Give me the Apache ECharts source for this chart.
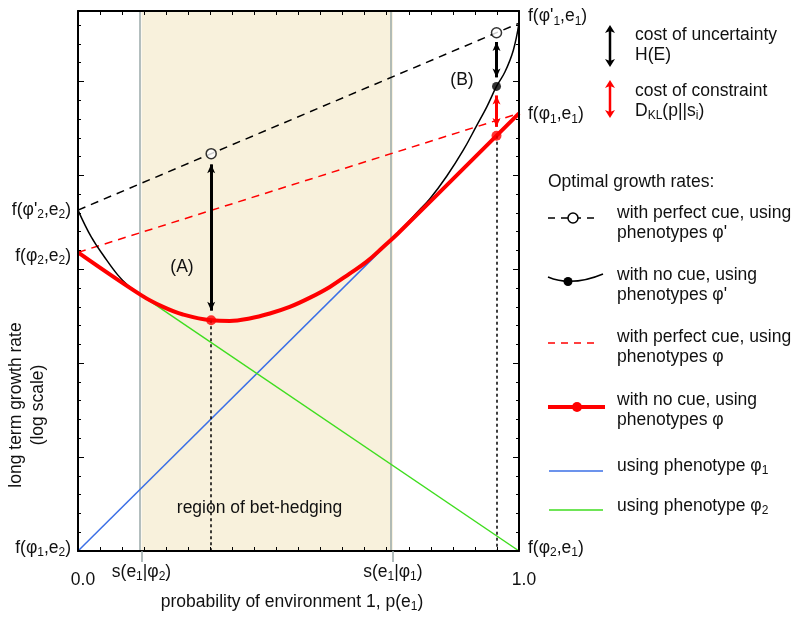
<!DOCTYPE html>
<html>
<head>
<meta charset="utf-8">
<script src="https://cdn.jsdelivr.net/npm/echarts@6.0.0/dist/echarts.min.js"></script>
<style>
html, body { margin: 0; padding: 0; background: #ffffff; }
#chart { width: 800px; height: 619px; }
</style>
</head>
<body>
<div id="chart"></div>
<script>
// ---------------- data ----------------
// x = probability of environment 1, p(e1); y = long term growth rate (log units, arbitrary)
const usingPhenotype1 = [[0, 0], [1, 4.66]];
const usingPhenotype2 = [[0, 3.18], [1, 0]];
const perfectCuePhi = [[0, 3.18], [1, 4.66]];
const perfectCuePhiPrime = [[0, 3.63], [1, 5.62]];
const noCuePhi = [[0, 3.18], [0.144, 2.722], [0.193, 2.599], [0.238, 2.518], [0.302, 2.457],
  [0.344, 2.450], [0.389, 2.476], [0.435, 2.529], [0.480, 2.599], [0.525, 2.695], [0.571, 2.812],
  [0.616, 2.954], [0.654, 3.078], [0.692, 3.237], [0.726, 3.383], [1, 4.66]];
const noCuePhiPrime = [[0, 3.63], [0.030, 3.344], [0.060, 3.131], [0.090, 2.940], [0.113, 2.830],
  [0.144, 2.722], [0.193, 2.599], [0.238, 2.518], [0.302, 2.457], [0.344, 2.450], [0.389, 2.476],
  [0.435, 2.529], [0.480, 2.599], [0.525, 2.695], [0.571, 2.812], [0.616, 2.954], [0.654, 3.078],
  [0.692, 3.237], [0.726, 3.39], [0.772, 3.62], [0.798, 3.75], [0.836, 3.99], [0.874, 4.27],
  [0.904, 4.53], [0.927, 4.73], [0.949, 4.947], [0.968, 5.10], [0.987, 5.33], [1, 5.62]];

const hedgingRegion = [0.144, 0.714];
const perfectCueDots = [[0.302, 4.231], [0.949, 5.519]];
const noCuePrimeDots = [[0.949, 4.947]];
const noCueDots = [[0.302, 2.457], [0.949, 4.422]];
const dropLines = [[0.302, 2.457], [0.949, 4.422]];
// [p, from, to]
const uncertaintyArrows = [[0.302, 4.117, 2.559], [0.949, 5.420, 5.043]];
const constraintArrows = [[0.949, 4.851, 4.516]];

const xTickValues = [0, 1];
const xTickLabels = ['0.0', '1.0'];
const switchValues = [0.144, 0.714];
const switchLabels = ['s(e{s|1}|φ{s|2})', 's(e{s|1}|φ{s|1})'];
const leftLabelValues = [0.03, 3.14, 3.63];
const leftLabels = ['f(φ{s|1},e{s|2})', 'f(φ{s|2},e{s|2})', "f(φ'{s|2},e{s|2})"];
const rightLabelValues = [0.03, 4.65, 5.69];
const rightLabels = ['f(φ{s|2},e{s|1})', 'f(φ{s|1},e{s|1})', "f(φ'{s|1},e{s|1})"];

// ---------------- styles ----------------
const FONT = "'Liberation Sans', Arial, Helvetica, sans-serif";
const FS = 17.5;
const TXT = '#111111';
const RED = '#ff0000';
const BLUE = '#3b6fe6';
const GREEN = '#3fdd1f';
const BEIGE = '#f8f1dc';
const GRAY = '#9aa8a8';

const subE = { fontSize: 12, fontFamily: FONT, lineHeight: 12, padding: [10, 0, 0, 0], color: TXT };
const subG = { fontSize: 12, fontFamily: FONT, lineHeight: 12, padding: [10, 0, 0, 0], fill: TXT };

function lookup(values, labels) {
  return function (v) {
    for (let i = 0; i < values.length; i++) if (Math.abs(values[i] - v) < 1e-9) return labels[i];
    return '';
  };
}

const yMin = 0, yMax = 5.75;
const baseAxisLine = { show: true, onZero: false, lineStyle: { color: '#000', width: 2 } };
const hiddenAxisLine = { show: false, onZero: false };

function xAxisCfg(extra) {
  return Object.assign({
    type: 'value', min: 0, max: 1, interval: 0.05, z: 3,
    splitLine: { show: false },
    axisLine: baseAxisLine,
    axisTick: { show: true, inside: true, length: 4, lineStyle: { color: '#000', width: 1 } },
    axisLabel: { show: false }
  }, extra);
}
function yAxisCfg(extra) {
  return Object.assign({
    type: 'value', min: yMin, max: yMax, interval: 0.2, z: 3,
    splitLine: { show: false },
    axisLine: baseAxisLine,
    axisTick: { show: true, inside: true, length: 3, lineStyle: { color: '#000', width: 1 } },
    axisLabel: { show: false }
  }, extra);
}

// ---------------- graphic helpers (legend & annotations) ----------------
function txt(x, y, text, opts) {
  return {
    type: 'text', x: x, y: y, z: 100, silent: true,
    style: Object.assign({
      text: text, fontSize: FS, fontFamily: FONT, fill: TXT, lineHeight: 20,
      align: 'left', verticalAlign: 'middle', rich: { s: subG }
    }, opts || {})
  };
}
function vArrow(x, y1, y2, color) {
  const h = 8, w = 5;
  return [
    { type: 'line', z: 100, silent: true, shape: { x1: x, y1: y1 + 5, x2: x, y2: y2 - 5 }, style: { stroke: color, lineWidth: 2.5 } },
    { type: 'polygon', z: 100, silent: true, shape: { points: [[x, y1], [x + w, y1 + h], [x, y1 + h - 2], [x - w, y1 + h]] }, style: { fill: color } },
    { type: 'polygon', z: 100, silent: true, shape: { points: [[x, y2], [x + w, y2 - h], [x, y2 - h + 2], [x - w, y2 - h]] }, style: { fill: color } }
  ];
}
function seg(x1, y, x2, color, width, dash) {
  return { type: 'line', z: 100, silent: true, shape: { x1: x1, y1: y, x2: x2, y2: y },
    style: { stroke: color, lineWidth: width, lineDash: dash || null } };
}
function dot(cx, cy, r, fill, stroke) {
  return { type: 'circle', z: 101, silent: true, shape: { cx: cx, cy: cy, r: r },
    style: { fill: fill, stroke: stroke || null, lineWidth: stroke ? 1.5 : 0 } };
}

const graphics = [].concat(
  [
    { type: 'text', x: 27, y: 405, rotation: Math.PI / 2, z: 100, silent: true,
      style: { text: 'long term growth rate\n(log scale)', fontSize: FS, fontFamily: FONT, fill: TXT,
        lineHeight: 22, align: 'center', verticalAlign: 'middle' } },
    txt(292, 602, 'probability of environment 1, p(e{s|1})', { align: 'center' }),
    txt(182, 267, '(A)', { align: 'center' }),
    txt(462, 80, '(B)', { align: 'center' }),
    txt(259.5, 508, 'region of bet-hedging', { align: 'center' }),
    txt(635, 45, 'cost of uncertainty\nH(E)'),
    txt(635, 101, 'cost of constraint\nD{s|KL}(p||s{s|i})'),
    txt(548, 182, 'Optimal growth rates:')
  ],
  vArrow(610, 25, 67, '#000'),
  vArrow(610, 80, 118, RED),
  [
    seg(548, 218, 598, '#000', 1.5, [7, 6]),
    dot(573, 218, 5, '#fff', '#000'),
    txt(617, 223, "with perfect cue, using\nphenotypes φ'"),
    { type: 'bezierCurve', z: 100, silent: true,
      shape: { x1: 548, y1: 277, cpx1: 572, cpy1: 287, x2: 603, y2: 274 },
      style: { stroke: '#000', lineWidth: 1.5, fill: null } },
    dot(568, 281.5, 4.5, '#000'),
    txt(617, 285, "with no cue, using\nphenotypes φ'"),
    seg(548, 343, 600, RED, 1.5, [7, 6]),
    txt(617, 347.5, 'with perfect cue, using\nphenotypes φ'),
    seg(548, 407, 605, RED, 4),
    dot(577, 407, 5, RED),
    txt(617, 410.5, 'with no cue, using\nphenotypes φ'),
    seg(549, 471, 603, BLUE, 1.5),
    txt(617, 466, 'using phenotype φ{s|1}'),
    seg(549, 510, 603, GREEN, 1.5),
    txt(617, 506, 'using phenotype φ{s|2}')
  ]
);

// ---------------- chart ----------------
const chart = echarts.init(document.getElementById('chart'), null, { renderer: 'canvas' });
const lineSeries = (data, color, width, type, smooth) => ({
  type: 'line', data: data, symbol: 'none', silent: true, smooth: smooth || false, z: 2,
  lineStyle: { color: color, width: width, type: type || 'solid' }
});

const option = {
  animation: false,
  backgroundColor: '#ffffff',
  grid: { left: 78, right: 281, top: 11, bottom: 68, containLabel: false, outerBoundsMode: 'none' },
  xAxis: [
    xAxisCfg({
      position: 'bottom',
      axisLabel: { show: true, customValues: xTickValues, formatter: lookup(xTickValues, xTickLabels),
        margin: 20, color: TXT, fontSize: FS, fontFamily: FONT, padding: [0, 0, 0, 10] }
    }),
    xAxisCfg({
      position: 'bottom',
      axisLine: hiddenAxisLine,
      axisTick: { show: true, inside: false, length: 11, customValues: switchValues, lineStyle: { color: GRAY, width: 1.5 } },
      axisLabel: { show: true, customValues: switchValues, formatter: lookup(switchValues, switchLabels),
        margin: 11, color: TXT, fontSize: FS, fontFamily: FONT, lineHeight: 20, rich: { s: subE } }
    }),
    xAxisCfg({ position: 'top' })
  ],
  yAxis: [
    yAxisCfg({
      position: 'left',
      axisLabel: { show: true, customValues: leftLabelValues, formatter: lookup(leftLabelValues, leftLabels),
        margin: 7, color: TXT, fontSize: FS, fontFamily: FONT, lineHeight: 20, rich: { s: subE } }
    }),
    yAxisCfg({ position: 'left', interval: 1, axisLine: hiddenAxisLine,
      axisTick: { show: true, inside: true, length: 6, lineStyle: { color: '#000', width: 1 } } }),
    yAxisCfg({
      position: 'right',
      axisLabel: { show: true, customValues: rightLabelValues, formatter: lookup(rightLabelValues, rightLabels),
        margin: 9, color: TXT, fontSize: FS, fontFamily: FONT, lineHeight: 20, rich: { s: subE } }
    }),
    yAxisCfg({ position: 'right', interval: 1, axisLine: hiddenAxisLine,
      axisTick: { show: true, inside: true, length: 6, lineStyle: { color: '#000', width: 1 } } })
  ],
  series: [
    {
      type: 'line', data: [], silent: true, z: 1,
      markArea: { silent: true, z: 0, itemStyle: { color: BEIGE },
        data: [[{ xAxis: hedgingRegion[0] }, { xAxis: hedgingRegion[1] }]] },
      markLine: { silent: true, z: 1, symbol: 'none', label: { show: false },
        lineStyle: { color: GRAY, width: 1.5, type: 'solid' },
        data: hedgingRegion.map(v => ({ xAxis: v })) }
    },
    lineSeries(usingPhenotype1, BLUE, 1.5),
    lineSeries(usingPhenotype2, GREEN, 1.5),
    lineSeries(perfectCuePhi, RED, 1.5, [8, 6]),
    lineSeries(perfectCuePhiPrime, '#000', 1.5, [8, 6]),
    lineSeries(noCuePhiPrime, '#000', 1.5, 'solid', 0.4),
    lineSeries(noCuePhi, RED, 4, 'solid', 0.4),
    {
      type: 'scatter', data: noCueDots, symbol: 'circle', symbolSize: 10, silent: true, z: 8,
      itemStyle: { color: RED },
      markLine: { silent: true, z: 5, symbol: 'none', label: { show: false },
        lineStyle: { color: '#000', width: 1.5, type: [3, 3] },
        data: dropLines.map(d => [{ coord: [d[0], d[1]] }, { coord: [d[0], yMin] }]) }
    },
    {
      type: 'scatter', data: noCuePrimeDots, symbol: 'circle', symbolSize: 9, silent: true, z: 8,
      itemStyle: { color: '#000' },
      markLine: { silent: true, z: 6, symbol: ['arrow', 'arrow'], symbolSize: [6, 9], label: { show: false },
        lineStyle: { color: RED, width: 3, type: 'solid' },
        data: constraintArrows.map(a => [{ coord: [a[0], a[1]] }, { coord: [a[0], a[2]] }]) }
    },
    {
      type: 'scatter', data: perfectCueDots, symbol: 'circle', symbolSize: 10, silent: true, z: 8,
      itemStyle: { color: '#ffffff', borderColor: '#000', borderWidth: 1.5 },
      markLine: { silent: true, z: 6, symbol: ['arrow', 'arrow'], symbolSize: [6, 9], label: { show: false },
        lineStyle: { color: '#000', width: 3, type: 'solid' },
        data: uncertaintyArrows.map(a => [{ coord: [a[0], a[1]] }, { coord: [a[0], a[2]] }]) }
    }
  ],
  graphic: graphics
};
chart.setOption(option);
</script>
</body>
</html>
